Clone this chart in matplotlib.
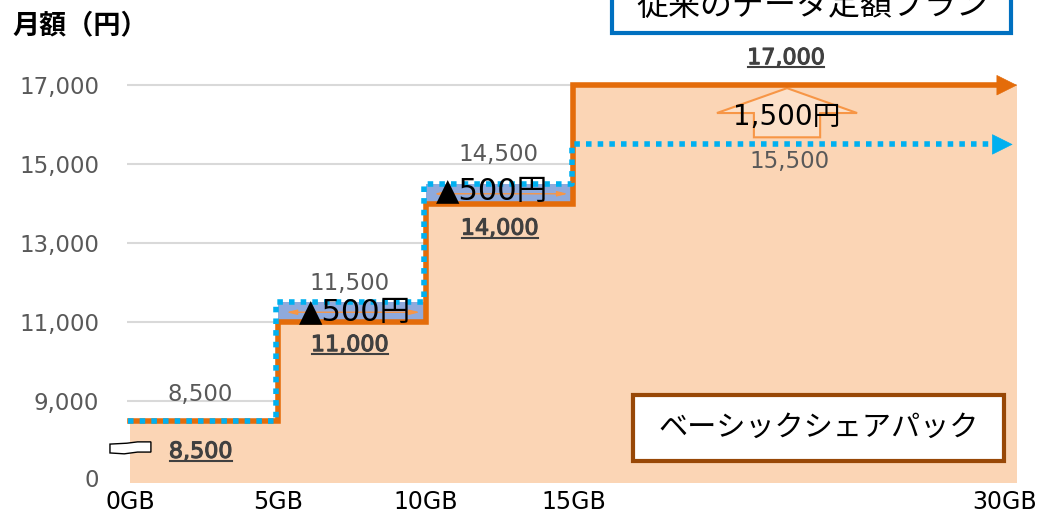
import matplotlib
matplotlib.use("Agg")
import matplotlib.pyplot as plt
from matplotlib.patches import Polygon, Rectangle
from matplotlib.lines import Line2D
from matplotlib.transforms import ScaledTranslation
import matplotlib.patheffects as pe
import numpy as np

plt.rcParams['font.family'] = ['DejaVu Sans', 'Noto Sans CJK JP']

# data
gb_breaks = [0, 5, 10, 15]
gb_end = 30
new_price = [8500, 11000, 14000, 17000]   # ベーシックシェアパック
old_price = [8500, 11500, 14500, 15500]   # 従来のデータ定額プラン
diff_labels = ['', '▲500円', '▲500円', '1,500円']
x_ticks = [0, 5, 10, 15, 30]
x_ticklabels = ['0GB', '5GB', '10GB', '15GB', '30GB']
y_ticks = [9000, 11000, 13000, 15000, 17000]

ORANGE = '#E46C0A'
BLUE = '#00B0F0'
PEACH = '#FBD5B5'
BAND = '#8FAADC'
GRAY = '#595959'
DARK = '#404040'

x_right = gb_end
y_low, y_top = 6924, 18140
zero_pos = 7051

fig = plt.figure(figsize=(10.4, 5.15), dpi=100)
ax = fig.add_axes([0.122, 0.062, 0.856, 0.860])
ax.set_xlim(-0.1, x_right)
ax.set_ylim(y_low, y_top)

xs = np.array(gb_breaks + [x_right])
new_y = np.array(new_price + [new_price[-1]])
old_y = np.array(old_price + [old_price[-1]])

ax.fill_between(xs, y_low, new_y, step='post', color=PEACH, lw=0, zorder=1)
for i in range(len(gb_breaks)):
    if old_price[i] > new_price[i]:
        ax.fill_between([xs[i], xs[i + 1]], new_price[i], old_price[i],
                        color=BAND, lw=0, zorder=1.5)

# grid
for t in y_ticks:
    ax.axhline(t, color='#D9D9D9', lw=1.5, zorder=0.5)

# step lines
ax.step(xs[:-1].tolist() + [x_right - 0.5], new_y[:-1].tolist() + [new_y[-1]],
        where='post', color=ORANGE, lw=4, zorder=3, solid_joinstyle='miter')
ax.annotate('', xy=(x_right, new_price[-1]), xytext=(x_right - 0.6, new_price[-1]),
            arrowprops=dict(arrowstyle='-|>,head_length=14,head_width=7',
                            color=ORANGE, lw=0.5, mutation_scale=1,
                            shrinkA=0, shrinkB=0), zorder=3)
ax.step(np.array(xs[:-1].tolist() + [x_right - 0.7]) - 0.06,
        old_y[:-1].tolist() + [old_y[-1]],
        where='post', color=BLUE, lw=4, dashes=(1.0, 1.1), zorder=4)
ax.annotate('', xy=(x_right - 0.15, old_price[-1]), xytext=(x_right - 0.7, old_price[-1]),
            arrowprops=dict(arrowstyle='-|>,head_length=14,head_width=7',
                            color=BLUE, lw=0.5, mutation_scale=1,
                            shrinkA=0, shrinkB=0), zorder=4)

# thin arrows inside the bands
for i in (1, 2):
    mid = (new_price[i] + old_price[i]) / 2
    ax.annotate('', xy=(gb_breaks[i] + 0.2, mid), xytext=(gb_breaks[i + 1] - 0.1, mid),
                arrowprops=dict(arrowstyle='<|-|>,head_length=0.6,head_width=0.15',
                                color='#F79646', lw=1), zorder=2)

# up arrow for 1,500円
cx = 22.22
lo, hi = old_price[3], new_price[3]
h = hi - lo
arrow_pts = [(cx, lo + 0.95 * h), (cx + 2.37, lo + 0.53 * h), (cx + 1.12, lo + 0.53 * h),
             (cx + 1.12, lo + 0.12 * h), (cx - 1.12, lo + 0.12 * h),
             (cx - 1.12, lo + 0.53 * h), (cx - 2.37, lo + 0.53 * h)]
ax.add_patch(Polygon(arrow_pts, closed=True, facecolor='#FCE0C8', edgecolor='#F79646',
                     lw=1.5, zorder=2))

# labels
old_x = [2.37, 7.44, 12.45, 22.32]
new_x = [2.4, 7.44, 12.51, 22.19]
diff_x = [0, 7.61, 12.24, 22.22]
old_off = [26, 19, 29, -17]
new_off = [-31, -23, -25, 27]
diff_off = [0, 10, 13, -32]
diff_size = [0, 22, 22, 20]
underlined = []
for i in range(4):
    ax.annotate(f'{old_price[i]:,}', (old_x[i], old_price[i]), xytext=(0, old_off[i]),
                textcoords='offset pixels', ha='center', va='center',
                fontsize=16.5, color=GRAY, zorder=6)
    t = ax.annotate(f'{new_price[i]:,}', (new_x[i], new_price[i]), xytext=(0, new_off[i]),
                    textcoords='offset pixels', ha='center', va='center',
                    fontsize=16, color=DARK, zorder=6,
                    path_effects=[pe.withStroke(linewidth=0.8, foreground=DARK)])
    underlined.append(t)
    if diff_labels[i]:
        ax.annotate(diff_labels[i], (diff_x[i], new_price[i]), xytext=(0, diff_off[i]),
                    textcoords='offset pixels', ha='center', va='center',
                    fontsize=diff_size[i], color='black', zorder=6)

# boxes
ax.add_patch(Rectangle((0.5685, 0.0497), 0.4165, 0.149, transform=ax.transAxes,
                       facecolor='white', edgecolor='#984807', lw=3, zorder=7))
ax.text(0.777, 0.124, 'ベーシックシェアパック', transform=ax.transAxes, ha='center',
        va='center', fontsize=21, color='black', zorder=8)
fig.add_artist(Rectangle((0.5885, 0.936), 0.384, 0.12, transform=fig.transFigure,
                         facecolor='white', edgecolor='#0070C0', lw=3, zorder=7))
fig.text(0.781, 0.987, '従来のデータ定額プラン', ha='center', va='center',
         fontsize=23, color='black', zorder=8)

fig.text(0.012, 0.948, '月額（円）', ha='left', va='center', fontsize=19.5,
         fontweight='bold', color='black')

# axes styling
ax.set_yticks([zero_pos] + y_ticks)
ax.set_yticklabels(['0'] + [f'{v:,}' for v in y_ticks], color=GRAY, fontsize=16.5)
ax.set_xticks(x_ticks)
ax.set_xticklabels(x_ticklabels, fontsize=17, color='black')
ax.tick_params(axis='both', length=0)
ax.tick_params(axis='y', pad=20)
ax.tick_params(axis='x', pad=5)
for s in ax.spines.values():
    s.set_visible(False)
last = ax.get_xticklabels()[-1]
last.set_transform(last.get_transform() + ScaledTranslation(-0.13, 0, fig.dpi_scale_trans))

# axis break mark
brk = [(-0.019, 0.088), (0.0, 0.090), (0.012, 0.093), (0.027, 0.093),
       (0.027, 0.070), (0.012, 0.070), (-0.003, 0.066), (-0.019, 0.068)]
ax.add_patch(Polygon(brk, closed=True, transform=ax.transAxes, facecolor='white',
                     edgecolor='black', lw=1, clip_on=False, zorder=8))

# underline the new price labels
fig.canvas.draw()
r = fig.canvas.get_renderer()
for t in underlined:
    bb = t.get_window_extent(r)
    y = bb.y0 + 1
    fig.add_artist(Line2D([bb.x0 + 1, bb.x1 - 1], [y, y], transform=None, color=DARK, lw=1.5))

fig.savefig('out.png', dpi=100)
